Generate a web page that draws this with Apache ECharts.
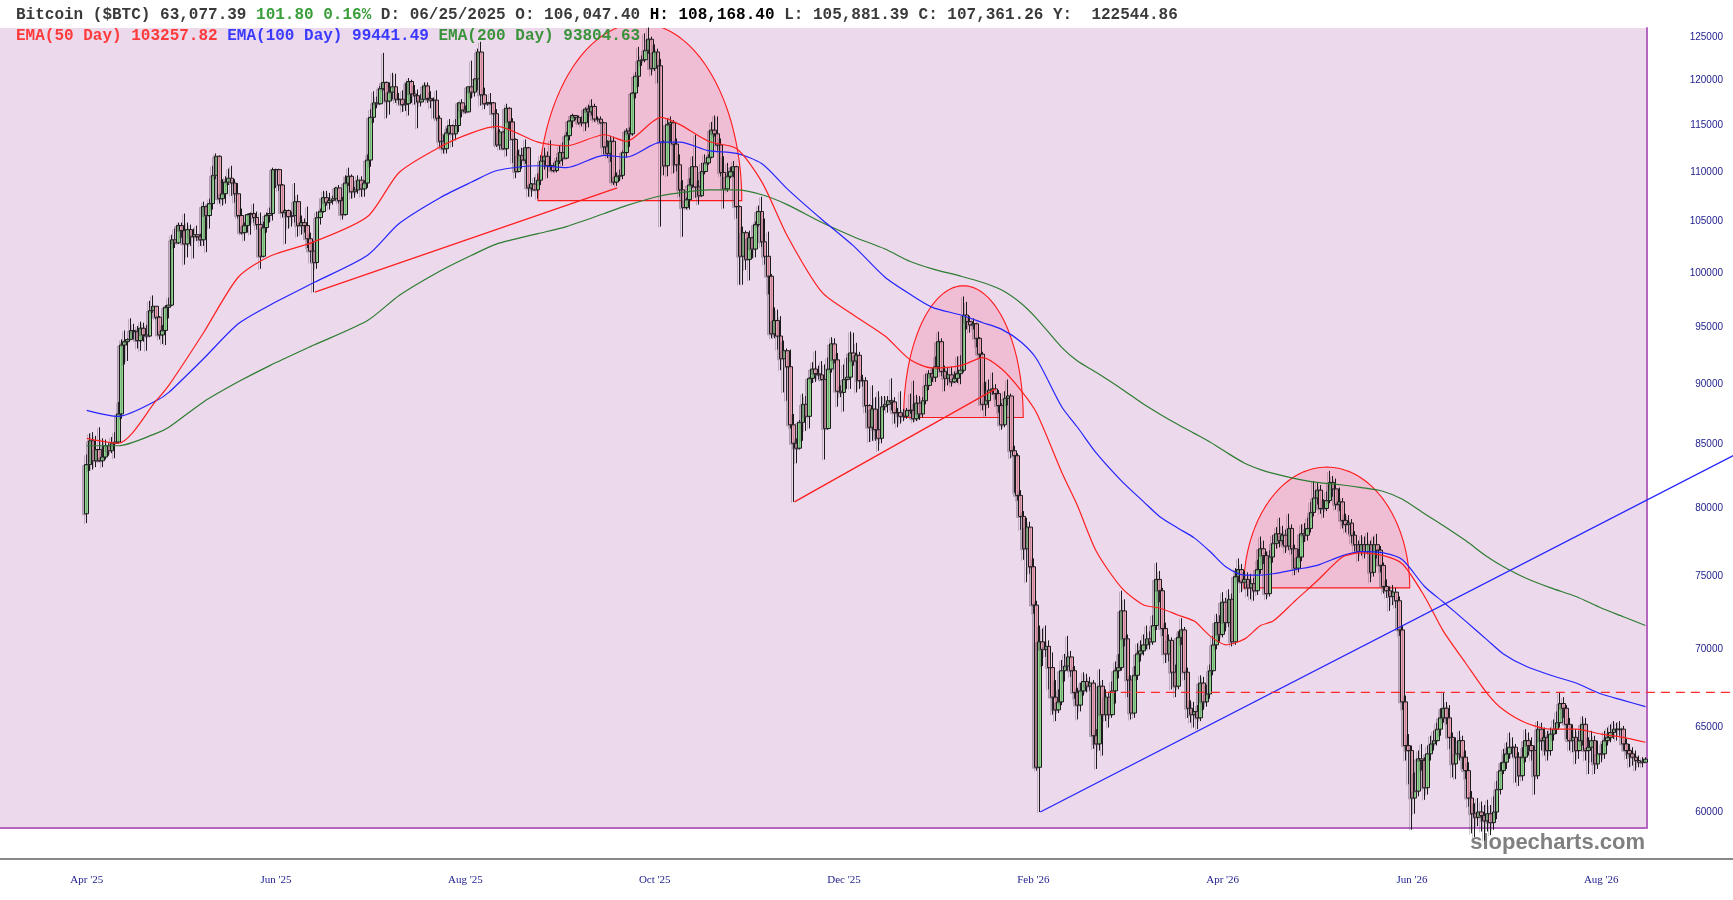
<!DOCTYPE html>
<html><head><meta charset="utf-8">
<script src="https://cdn.jsdelivr.net/npm/echarts@6/dist/echarts.min.js"></script>
<style>html,body{margin:0;padding:0;background:#fff}#c{width:1733px;height:900px}</style>
</head><body><div id="c"></div><script>
// Daily BTC candles, day 0 = 2025-04-11 (values in thousands of USD)
const firstOpen = 79.6;
const closes = [
83.4,85.3,83.7,84.6,83.7,84.0,84.9,84.5,85.1,85.2,
87.5,93.4,93.7,93.9,94.7,94.6,93.8,94.9,94.3,94.2,
96.5,96.9,95.9,94.3,94.7,96.8,97.0,103.2,102.9,104.6,
104.1,102.8,104.2,103.5,103.7,103.5,103.2,106.5,105.6,106.8,
109.7,111.7,107.3,107.8,109.0,109.4,108.9,107.8,105.6,103.9,
104.6,105.7,105.8,105.4,104.7,101.6,104.4,105.6,105.8,110.3,
110.3,108.7,105.9,106.1,105.5,105.6,107.0,104.6,104.9,104.6,
103.3,102.1,101.0,105.4,106.0,107.4,106.9,107.1,107.3,108.4,
107.1,105.7,108.9,109.6,108.0,108.2,109.2,108.3,108.9,111.3,
115.9,117.5,117.4,119.1,119.8,117.7,118.7,119.3,117.9,117.9,
117.3,117.4,119.9,118.5,118.3,117.6,117.9,119.4,118.0,117.8,
117.8,115.8,113.3,112.5,114.2,115.0,114.1,115.0,117.5,116.7,
116.5,119.3,118.7,120.2,123.3,118.4,117.4,117.5,117.5,116.3,
112.9,114.3,112.5,116.9,115.4,113.5,110.1,111.8,111.3,112.6,
108.4,108.8,108.2,109.2,111.2,111.7,110.7,110.7,110.2,111.2,
112.1,111.5,113.9,115.5,116.1,115.9,115.3,115.3,116.8,116.5,
117.1,115.7,115.7,115.3,112.7,112.0,113.3,109.0,109.6,109.7,
112.1,114.4,114.1,118.6,120.5,122.3,122.4,123.5,124.8,121.4,
123.3,121.7,113.2,110.7,115.1,115.3,113.0,110.8,108.2,106.4,
107.2,108.7,110.6,108.5,107.6,110.1,111.0,111.6,114.5,114.1,
112.9,110.0,108.3,109.6,110.1,110.6,106.5,101.6,103.9,101.3,
103.4,102.3,104.7,106.0,103.0,101.6,99.7,94.4,95.6,94.2,
92.2,92.9,91.5,86.6,85.1,84.7,86.8,88.3,87.3,90.5,
91.3,90.9,90.8,90.4,86.3,91.3,93.5,92.1,89.4,89.3,
90.4,90.6,92.7,92.0,92.5,90.3,90.3,88.2,86.4,87.9,
86.2,85.5,88.1,88.3,88.6,88.5,87.6,87.6,87.3,87.3,
87.8,87.8,87.1,88.4,87.5,88.6,89.9,90.9,90.6,91.5,
93.7,91.1,90.5,90.8,90.2,90.5,90.9,91.2,96.1,95.5,
95.2,95.3,94.0,92.6,88.3,88.6,89.5,89.6,89.2,88.2,
86.6,88.8,89.0,84.5,84.1,81.0,79.4,77.0,78.6,75.7,
73.0,62.6,70.5,70.0,70.2,68.8,66.9,66.1,66.6,68.6,
68.9,69.5,68.6,67.2,66.4,67.3,67.9,67.6,67.8,64.5,
64.0,67.6,65.8,66.9,65.8,67.3,68.6,68.8,72.6,70.7,
68.0,65.9,68.3,69.7,69.9,70.3,70.7,70.5,71.6,74.8,
74.0,71.4,69.7,70.6,68.5,67.6,70.8,71.3,68.5,66.2,
65.8,66.0,65.6,67.8,66.6,67.1,68.6,70.3,71.8,71.0,
73.2,71.8,73.4,70.5,75.0,75.5,74.6,74.8,74.2,74.5,
74.0,75.5,77.0,76.5,73.8,76.4,77.4,78.1,77.6,78.0,
77.2,78.5,77.0,75.6,76.4,78.1,78.0,78.5,79.7,80.8,
81.4,80.0,80.0,80.6,82.0,81.5,80.3,80.5,79.1,78.8,
78.9,78.0,77.3,76.8,77.3,76.8,77.3,75.3,77.3,76.9,
75.8,74.3,74.0,73.6,73.9,73.3,71.3,66.6,63.9,63.6,
60.8,61.2,63.1,63.0,61.4,63.4,64.0,64.2,64.9,65.6,
66.2,65.6,64.4,62.8,63.4,64.2,63.2,62.4,60.8,59.9,
59.7,60.0,59.8,59.5,59.9,59.4,60.0,61.3,62.4,62.9,
63.4,63.8,63.8,63.2,62.1,63.2,64.2,63.9,63.6,62.1,
64.9,64.2,64.4,63.6,64.6,64.9,65.3,66.5,66.2,65.2,
64.2,64.4,63.6,64.2,65.2,63.6,63.8,64.2,62.8,63.4,
63.4,64.2,64.4,64.7,64.9,64.9,64.9,64.0,63.6,63.4,
63.2,63.0,62.9,62.9,63.08];
const highs = [
84.2,85.9,86.0,85.7,86.4,85.5,85.4,85.1,85.6,86.0,
88.5,93.9,94.7,94.0,95.8,95.3,95.1,95.5,95.4,95.2,
97.4,97.9,96.9,96.0,95.2,97.0,97.7,103.7,104.3,104.9,
104.9,105.8,104.9,104.7,104.3,104.6,103.8,107.0,106.6,107.3,
110.7,112.0,111.8,109.3,109.6,110.4,110.7,109.3,108.9,106.3,
104.9,105.8,105.9,106.8,106.0,105.9,105.0,105.9,106.4,110.5,
110.4,110.4,108.8,106.2,106.2,106.0,108.9,107.7,105.6,105.3,
106.5,103.9,103.1,106.0,106.3,108.1,108.1,107.9,107.6,108.5,
108.7,107.5,109.7,110.5,109.8,108.5,109.7,109.6,109.2,111.9,
116.8,118.8,118.2,119.4,123.2,119.9,119.8,120.9,120.8,118.6,
118.9,119.7,120.3,120.1,119.5,119.0,118.5,119.8,119.8,118.8,
118.1,118.9,116.1,114.0,114.7,115.7,115.1,115.7,117.6,117.9,
117.2,119.3,122.3,120.3,123.7,124.5,119.2,117.6,118.6,117.6,
116.8,114.6,114.4,117.4,117.0,115.8,113.6,112.4,112.6,113.5,
112.7,108.9,109.5,109.9,111.8,112.6,112.2,113.4,111.0,111.6,
112.8,113.2,114.3,115.6,116.3,116.1,116.1,116.0,117.0,117.3,
117.9,117.4,116.0,116.0,115.4,113.4,113.9,113.8,110.0,110.3,
112.3,114.7,114.8,118.7,121.0,123.9,122.9,125.5,126.2,125.1,
124.2,123.7,122.5,113.4,115.8,116.0,115.6,113.6,111.9,109.2,
107.4,109.4,111.7,114.0,109.2,111.0,111.9,111.9,115.4,116.1,
116.0,113.6,111.7,111.0,110.6,111.2,110.7,106.6,104.5,104.1,
104.1,103.5,105.0,106.6,107.5,105.3,104.0,99.9,96.8,96.6,
96.0,93.8,93.1,93.0,87.5,85.5,87.0,89.2,89.0,90.6,
91.9,92.9,91.6,92.0,91.7,92.3,94.1,94.0,92.7,89.9,
91.7,92.3,94.6,94.5,93.6,92.8,90.8,90.6,88.3,89.9,
88.9,89.4,89.0,89.0,89.0,90.5,88.9,88.0,89.4,87.9,
88.0,89.2,90.3,89.1,89.0,88.9,90.9,91.2,91.4,92.4,
94.6,94.0,91.6,91.4,91.5,91.1,92.4,92.5,97.8,97.3,
96.0,95.8,95.4,94.1,92.8,90.2,90.4,91.0,90.0,89.5,
88.4,89.4,90.4,89.2,84.9,84.3,81.4,79.8,79.3,79.0,
76.3,73.3,71.6,71.4,71.6,70.6,69.8,68.0,67.4,69.3,
69.7,70.9,69.9,68.9,67.5,67.8,68.5,68.4,68.2,68.0,
64.9,68.7,68.0,67.4,67.2,67.9,69.2,69.7,74.0,73.4,
71.0,68.3,68.9,70.4,70.6,71.0,71.6,71.2,72.3,76.0,
75.4,74.2,71.8,71.0,70.8,69.0,71.2,72.1,71.5,68.8,
66.7,66.6,66.4,68.3,68.2,67.7,69.0,70.9,72.4,72.3,
73.9,73.5,74.1,73.8,75.6,76.3,75.9,75.4,75.3,75.2,
74.9,76.2,77.9,77.6,76.8,76.9,78.0,78.6,79.3,78.7,
78.4,79.6,78.8,77.3,77.0,78.8,78.9,79.3,80.5,82.1,
82.0,81.8,80.7,81.3,82.9,82.5,82.3,81.6,80.8,79.6,
79.5,79.2,78.3,77.6,78.0,77.9,78.2,77.6,77.9,78.1,
77.2,76.0,74.8,74.3,74.4,74.2,73.6,71.6,67.0,64.6,
63.9,62.3,63.6,64.0,63.2,63.9,64.5,64.8,65.3,66.2,
67.2,66.6,66.4,64.7,64.4,64.8,64.5,63.6,62.9,61.2,
60.5,60.8,60.6,60.4,60.7,60.4,60.9,61.8,62.9,63.7,
64.1,64.7,64.4,64.0,63.5,63.8,64.9,64.7,64.4,63.9,
65.4,65.3,65.0,64.8,65.0,65.5,66.0,67.2,66.9,66.4,
65.6,65.2,64.9,64.8,65.7,65.6,64.4,64.8,64.5,64.2,
64.0,64.8,65.0,65.2,65.4,65.3,65.4,65.1,64.3,64.0,
63.8,63.6,63.3,63.2,63.2];
const lows = [
78.9,82.9,83.0,83.2,83.6,83.2,83.8,84.1,84.3,83.9,
85.1,87.1,91.7,92.0,93.9,93.9,93.1,92.9,93.7,92.9,
94.1,96.3,95.7,93.9,93.5,93.4,95.8,96.9,102.4,102.8,
103.4,100.8,101.5,102.6,101.4,103.1,102.6,102.6,102.0,104.3,
106.2,109.3,106.8,106.6,106.8,108.7,107.6,106.9,105.3,103.7,
103.1,103.9,103.7,104.9,104.2,100.4,101.5,103.9,104.9,105.1,
108.4,108.1,105.4,102.8,104.3,104.5,104.9,103.5,103.7,103.9,
102.4,101.0,98.2,100.4,104.7,105.9,106.6,106.2,106.7,107.1,
106.8,105.2,105.6,108.6,107.3,107.4,107.8,107.5,107.5,108.4,
110.6,115.3,116.9,117.3,118.9,115.8,116.2,117.9,117.5,117.3,
116.5,116.6,116.1,117.5,117.3,114.7,117.1,117.9,117.5,116.9,
115.8,115.5,112.7,112.0,112.0,114.0,112.7,113.4,114.3,115.9,
116.3,116.5,118.0,118.2,118.9,117.2,116.8,117.2,117.3,114.7,
112.7,112.4,112.4,111.7,114.6,111.0,109.4,110.0,110.4,110.9,
107.5,107.5,108.1,107.3,108.7,110.3,109.4,110.2,110.0,110.0,
110.9,110.7,111.4,113.4,114.8,115.6,115.1,114.9,114.4,114.8,
116.1,115.4,115.4,115.2,111.9,111.5,111.1,108.7,108.6,109.1,
109.3,111.6,112.7,113.9,118.0,119.3,121.7,122.1,123.1,120.6,
121.1,119.7,104.5,109.7,109.6,113.1,109.9,110.1,107.5,103.5,
106.2,106.2,108.4,107.4,106.7,107.5,109.8,110.8,111.5,113.8,
112.3,109.6,106.3,108.0,109.4,109.5,105.3,98.9,98.9,100.3,
99.3,101.4,101.5,104.5,102.5,100.8,98.0,94.0,94.0,93.0,
91.2,89.3,88.6,86.3,80.5,83.5,84.6,85.3,86.1,86.3,
90.1,90.2,90.4,90.3,83.8,86.2,91.0,91.8,88.1,88.9,
87.7,89.6,89.6,91.6,89.3,89.6,89.8,87.6,85.2,85.3,
85.3,84.5,85.1,87.8,87.6,87.8,86.7,86.4,86.7,86.9,
87.1,87.5,86.8,86.9,87.0,87.2,88.3,89.5,90.2,90.2,
91.3,90.7,89.4,89.9,89.8,90.1,90.1,90.0,91.0,94.8,
94.5,94.8,93.2,92.2,87.8,87.3,88.0,89.1,88.7,87.6,
86.2,86.4,88.2,83.9,81.2,80.6,78.4,76.2,74.6,75.2,
72.4,62.4,60.0,68.9,69.5,67.4,65.8,65.4,65.9,66.4,
67.9,68.6,68.2,66.8,65.5,66.0,67.0,67.2,67.3,63.7,
62.5,63.6,63.3,65.4,65.0,65.6,66.5,68.1,68.6,70.2,
66.9,65.5,65.6,68.0,69.2,69.6,70.0,70.0,70.3,71.3,
73.2,70.9,69.1,69.2,67.4,66.9,67.4,70.3,68.0,65.6,
65.3,65.0,64.9,65.4,66.1,66.3,66.8,68.3,70.0,70.5,
70.8,71.2,71.5,70.2,70.3,74.6,73.9,74.1,73.6,73.4,
73.3,73.7,75.2,75.9,73.4,73.6,76.0,77.0,77.1,77.3,
76.7,76.9,76.6,75.1,75.3,76.1,77.5,77.6,78.2,79.4,
80.3,79.6,79.3,79.8,80.4,80.9,79.9,79.8,78.5,78.2,
78.1,77.4,76.8,76.1,76.5,76.3,76.6,74.6,75.0,76.3,
75.3,73.8,73.5,72.6,73.0,72.8,70.9,66.1,63.0,61.6,
59.0,59.9,60.9,62.4,60.7,61.0,63.0,63.6,63.9,64.5,
65.3,65.2,63.7,62.0,61.9,63.0,62.5,61.9,60.3,58.8,
58.6,59.2,58.9,58.4,58.9,58.7,59.0,59.6,61.0,62.2,
62.5,63.1,63.2,61.7,61.5,61.8,62.9,63.3,63.0,61.0,
61.9,63.6,63.3,63.0,63.3,64.2,64.6,65.0,65.6,64.3,
63.6,63.5,62.8,63.1,63.9,63.0,62.2,62.9,62.2,62.5,
62.9,63.1,63.9,64.1,64.3,64.2,64.5,63.6,63.1,62.6,
62.7,62.4,62.6,62.6,62.9];

// Moving averages at sample days (thousands)
const emaIdx = [0,10,22,26,37,48,58,72,89,99,112,122,130,143,152,164,171,182,188,197,206,214,222,233,243,253,261,268,277,284,290,296,301,309,314,320,328,335,340,346,351,356,361,367,372,376,383,390,398,404,411,417,424,430,437,444,449,456,464,472,480,487,494];
const ema50 = [85.5,85.1,88.6,89.9,94.5,99.6,101.6,103.0,105.5,110.0,112.7,114.2,114.9,113.2,112.8,114.0,113.3,115.9,115.1,113.3,112.5,109.0,103.6,98.2,96.1,94.2,92.1,91.4,91.6,92.3,91.3,89.5,87.6,82.8,80.2,76.8,74.2,73.0,72.8,72.3,71.9,70.9,70.3,70.7,71.6,71.9,73.3,74.7,76.4,76.7,76.5,75.9,73.6,71.2,69.1,67.1,66.1,65.3,64.9,64.9,64.6,64.4,64.1];
const ema100 = [87.8,87.3,88.6,89.3,92.2,95.3,97.0,99.1,101.7,104.8,107.4,109.0,110.2,110.7,110.5,111.8,111.6,113.2,113.2,112.3,112.0,110.9,108.3,105.2,102.6,99.6,98.0,96.8,96.1,95.4,94.8,93.7,92.2,88.1,86.4,84.3,82.1,80.5,79.4,78.5,77.8,76.8,75.7,75.1,75.1,75.2,75.5,75.8,76.5,76.8,76.7,76.2,74.3,73.2,71.9,70.6,69.7,68.9,68.3,67.8,67.1,66.7,66.3];
const ema200 = [84.9,84.9,85.9,86.4,88.5,90.2,91.6,93.4,95.6,97.9,100.2,101.7,102.8,103.8,104.5,105.8,106.6,107.6,107.9,108.2,108.2,107.7,106.7,104.9,103.5,102.3,101.1,100.4,99.7,99.1,98.4,97.2,95.8,93.2,92.0,91.0,89.6,88.3,87.5,86.6,85.9,85.2,84.4,83.5,83.0,82.7,82.3,82.0,81.8,81.6,81.3,80.7,79.6,78.7,77.6,76.4,75.7,74.9,74.2,73.6,72.8,72.2,71.6];

// Axis ticks
const xTickIdx = [0,60,120,180,240,300,360,420,480];
const xTickLabels = ["Apr '25","Jun '25","Aug '25","Oct '25","Dec '25","Feb '26","Apr '26","Jun '26","Aug '26"];
const yTicks = [60000,65000,70000,75000,80000,85000,90000,95000,100000,105000,110000,115000,120000,125000];

// Drawn annotations (day index, price)
const domeLeft = [143.0, 258.9, 366.7];
const domeRight = [207.6, 296.8, 419.3];
const domeBase = [107100, 87200, 74200];
const domeTop = [126700, 98800, 83200];
const trendX1 = [72.3, 224.3, 302.2];
const trendY1 = [98200, 80500, 60000];
const trendX2 = [168.1, 288.0, 522.5];
const trendY2 = [108400, 89600, 84200];
const trendColor = ['#ff1f1f', '#ff1f1f', '#2424ff'];
const levelStart = [323];
const levelEnd = [522.5];
const levelValue = [67200];

// Header texts
const hdr = {name:'Bitcoin ($BTC)', last:'63,077.39', chg:'101.80 0.16%', date:'06/25/2025', o:'106,047.40', h:'108,168.40', l:'105,881.39', c:'107,361.26', y:'122544.86'};
const emaHdr = ['103257.82','99441.49','93804.63'];

const candles = closes.map((c, i) => {
  const o = i === 0 ? firstOpen : closes[i-1];
  const h = Math.max(highs[i], o, c), l = Math.min(lows[i], o, c);
  return [i, o*1000, c*1000, l*1000, h*1000];
});
const emaSeries = (arr) => emaIdx.map((x, k) => [x, arr[k]*1000]);

const LN_MIN = Math.log(59098), LN_MAX = Math.log(126138);
const MONO = '"Liberation Mono", monospace';

const chart = echarts.init(document.getElementById('c'), null, {renderer:'canvas'});
chart.setOption({
  animation: false,
  backgroundColor: '#ffffff',
  title: [
    {left: 11, top: 2, text:
      '{k|' + hdr.name + ' ' + hdr.last + ' }{g|' + hdr.chg + '}{k| D: ' + hdr.date + ' O: ' + hdr.o + ' }{b|H: ' + hdr.h + '}{k| L: ' + hdr.l + ' C: ' + hdr.c + ' Y:  ' + hdr.y + '}',
      textStyle: {fontFamily: MONO, fontSize: 16, rich: {
        k: {fontFamily: MONO, fontSize:16, color:'#3a3a3a'},
        g: {fontFamily: MONO, fontSize:16, color:'#3a9e3a'},
        b: {fontFamily: MONO, fontSize:16, color:'#000000', fontWeight:'bold'}
      }}},
    {left: 11, top: 23, text:
      '{r|EMA(50 Day) ' + emaHdr[0] + ' }{u|EMA(100 Day) ' + emaHdr[1] + ' }{v|EMA(200 Day) ' + emaHdr[2] + '}',
      textStyle: {fontFamily: MONO, fontSize: 16, rich: {
        r: {fontFamily: MONO, fontSize:16, color:'#ff3a3a'},
        u: {fontFamily: MONO, fontSize:16, color:'#3a3aff'},
        v: {fontFamily: MONO, fontSize:16, color:'#3a933a'}
      }}}
  ],
  grid: {left: -1, right: 86, top: 28, bottom: 72, show: true, backgroundColor: '#ecd9ec', borderWidth: 0},
  xAxis: {type: 'value', min: -27.5, max: 494.5,
    axisLine: {show: true, onZero: false, lineStyle: {color: '#b466c0', width: 2}},
    axisTick: {show: false}, splitLine: {show: false},
    axisLabel: {customValues: xTickIdx, formatter: v => xTickLabels[xTickIdx.indexOf(v)], margin: 47,
      fontFamily: 'Liberation Serif', fontSize: 11, color: '#1c1c8c'}},
  yAxis: [
    {type: 'log', position: 'right', min: 59098, max: 126138,
      axisLine: {show: true, onZero: false, lineStyle: {color: '#b466c0', width: 2}},
      axisTick: {show: false}, splitLine: {show: false}, axisLabel: {show: false}},
    {type: 'value', position: 'right', min: LN_MIN, max: LN_MAX,
      axisLine: {show: false, onZero: false}, axisTick: {show: false}, splitLine: {show: false},
      axisLabel: {customValues: yTicks.map(v => Math.log(v)), formatter: v => String(Math.round(Math.exp(v)/1000)*1000),
        margin: 76, align: 'right', fontFamily: 'Liberation Sans', fontSize: 10, color: '#1c1c8c'}}
  ],
  graphic: [
    {type: 'line', silent: true, shape: {x1: 0, y1: 859, x2: 1733, y2: 859}, style: {stroke: '#888888', lineWidth: 2}},
    {type: 'text', silent: true, x: 1645, y: 843, style: {text: 'slopecharts.com', font: 'bold 22px "Liberation Sans"', fill: '#808080', align: 'right', verticalAlign: 'middle', textAlign: 'right', textVerticalAlign: 'middle'}}
  ],
  series: [
    {type: 'custom', name: 'domes', clip: true, z: 1, silent: true,
      data: domeLeft.map((l, k) => [l, domeRight[k], domeBase[k], domeTop[k]]),
      encode: {x: [0, 1], y: [2, 3]},
      renderItem: (params, api) => {
        const L = api.coord([api.value(0), api.value(2)]);
        const R = api.coord([api.value(1), api.value(2)]);
        const T = api.coord([api.value(0), api.value(3)]);
        const cx = (L[0] + R[0]) / 2, a = (R[0] - L[0]) / 2, b = L[1] - T[1], by = L[1];
        const pts = [];
        for (let s = 0; s <= 80; s++) { const t = Math.PI * s / 80; pts.push([cx - a * Math.cos(t), by - b * Math.sin(t)]); }
        return {type: 'polygon', shape: {points: pts}, style: {fill: 'rgba(255,80,120,0.2)', stroke: '#ff1a1a', lineWidth: 1.1}};
      }},
    {type: 'candlestick', name: 'BTC', data: candles, encode: {x: 0, y: [1, 2, 3, 4]},
      barWidth: 4.2, clip: false, z: 3, silent: true,
      itemStyle: {color: '#8ed88e', color0: '#eda4b8', borderColor: '#1a1a1a', borderColor0: '#1a1a1a', borderWidth: 1,
        shadowColor: 'rgba(90,70,90,0.3)', shadowOffsetX: -2, shadowOffsetY: 1, shadowBlur: 0}},
    {type: 'line', name: 'EMA200', data: emaSeries(ema200), showSymbol: false, smooth: 0.25, z: 4, silent: true,
      lineStyle: {color: '#2e7d32', width: 1.2}},
    {type: 'line', name: 'EMA100', data: emaSeries(ema100), showSymbol: false, smooth: 0.25, z: 4, silent: true,
      lineStyle: {color: '#2424ff', width: 1.2}},
    {type: 'line', name: 'EMA50', data: emaSeries(ema50), showSymbol: false, smooth: 0.25, z: 4, silent: true,
      lineStyle: {color: '#ff2020', width: 1.2}},
    {type: 'custom', name: 'trend', clip: false, z: 5, silent: true,
      data: trendX1.map((x, k) => [x, trendY1[k], trendX2[k], trendY2[k]]),
      encode: {x: [0, 2], y: [1, 3]},
      renderItem: (params, api) => {
        const p1 = api.coord([api.value(0), api.value(1)]);
        const p2 = api.coord([api.value(2), api.value(3)]);
        return {type: 'line', shape: {x1: p1[0], y1: p1[1], x2: p2[0], y2: p2[1]},
          style: {stroke: trendColor[params.dataIndex], lineWidth: 1.3}};
      }},
    {type: 'custom', name: 'level', clip: false, z: 5, silent: true,
      data: levelStart.map((x, k) => [x, levelValue[k], levelEnd[k]]),
      encode: {x: [0, 2], y: 1},
      renderItem: (params, api) => {
        const p1 = api.coord([api.value(0), api.value(1)]);
        const p2 = api.coord([api.value(2), api.value(1)]);
        return {type: 'line', shape: {x1: p1[0], y1: p1[1], x2: p2[0], y2: p2[1]},
          style: {stroke: '#ff2a2a', lineWidth: 1.2, lineDash: [9, 6]}};
      }}
  ]
});
</script></body></html>
